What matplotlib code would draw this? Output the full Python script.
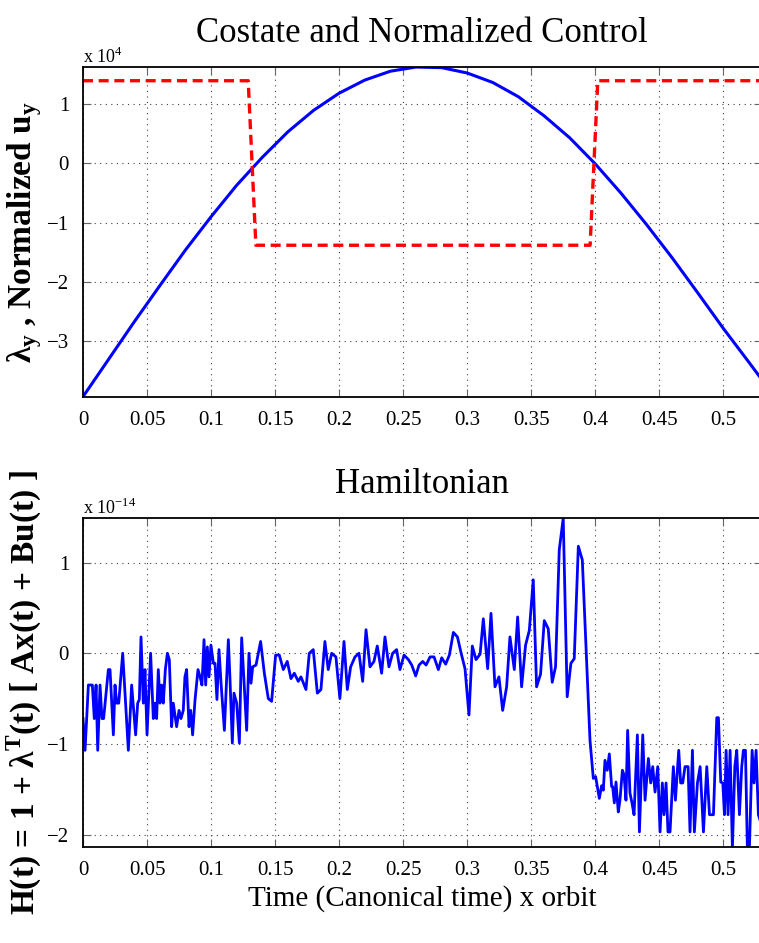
import matplotlib
matplotlib.use("Agg")
import matplotlib.pyplot as plt
import numpy as np

plt.rcParams['font.family'] = ['Liberation Serif', 'DejaVu Serif']
plt.rcParams['mathtext.fontset'] = 'custom'
plt.rcParams['mathtext.rm'] = 'Liberation Serif'
plt.rcParams['mathtext.bf'] = 'Liberation Serif:bold'

# Top panel: costate lambda_y (x 1e4) and normalized control u_y
t_lam = [0.00, 0.02, 0.04, 0.06, 0.08, 0.10, 0.12, 0.14, 0.16, 0.18,
         0.20, 0.22, 0.24, 0.26, 0.28, 0.30, 0.32, 0.34, 0.36, 0.38,
         0.40, 0.42, 0.44, 0.46, 0.48, 0.50, 0.52, 0.53]
lam_y = [-3.93, -3.30, -2.67, -2.06, -1.46, -0.90, -0.37, 0.10, 0.53, 0.89,
         1.18, 1.40, 1.55, 1.62, 1.61, 1.52, 1.36, 1.12, 0.80, 0.43,
         -0.01, -0.50, -1.03, -1.59, -2.18, -2.78, -3.35, -3.64]

t_u = [0.0, 0.129, 0.135, 0.396, 0.402, 0.53]
u_y = [1.39, 1.39, -1.38, -1.38, 1.39, 1.39]

# Bottom panel: Hamiltonian (x 1e-14)
t_h = [0.0000, 0.0016, 0.0042, 0.0073, 0.0088, 0.0102, 0.0115, 0.0133, 0.0148, 0.0161,
       0.0198, 0.0211, 0.0237, 0.0250, 0.0263, 0.0279, 0.0310, 0.0354, 0.0380, 0.0411,
       0.0427, 0.0440, 0.0453, 0.0471, 0.0484, 0.0500, 0.0528, 0.0549, 0.0560, 0.0575,
       0.0588, 0.0601, 0.0614, 0.0627, 0.0643, 0.0659, 0.0674, 0.0692, 0.0705, 0.0731,
       0.0750, 0.0765, 0.0783, 0.0796, 0.0809, 0.0828, 0.0841, 0.0856, 0.0875, 0.0898,
       0.0914, 0.0929, 0.0945, 0.0958, 0.0971, 0.0984, 0.0999, 0.1018, 0.1031, 0.1046,
       0.1062, 0.1078, 0.1104, 0.1135, 0.1148, 0.1166, 0.1179, 0.1200, 0.1221,
       0.1239, 0.1278, 0.1296, 0.1312, 0.1325, 0.1351, 0.1387, 0.1416, 0.1447, 0.1473,
       0.1504, 0.1533, 0.1564, 0.1595, 0.1624, 0.1650, 0.1681, 0.1702, 0.1741, 0.1767,
       0.1798, 0.1830, 0.1858, 0.1889, 0.1915, 0.1942, 0.1975, 0.2006, 0.2038, 0.2064,
       0.2090, 0.2124, 0.2155, 0.2184, 0.2210, 0.2241, 0.2272, 0.2298, 0.2332, 0.2358,
       0.2389, 0.2418, 0.2449, 0.2475,
       0.2507, 0.2541, 0.2567, 0.2598, 0.2624, 0.2653, 0.2679, 0.2710, 0.2741, 0.2775,
       0.2801, 0.2832, 0.2861, 0.2892, 0.2924, 0.2953, 0.2983, 0.3014, 0.3040, 0.3069,
       0.3101, 0.3126, 0.3160, 0.3186, 0.3217, 0.3248, 0.3277, 0.3308, 0.3334, 0.3368,
       0.3394, 0.3425, 0.3456, 0.3485, 0.3516, 0.3542, 0.3573, 0.3602, 0.3633, 0.3664,
       0.3690, 0.3719, 0.3750, 0.3781, 0.3810, 0.3836,
       0.3868, 0.3899, 0.3959, 0.3985, 0.4003, 0.4032, 0.4050, 0.4063, 0.4076, 0.4094,
       0.4110, 0.4128, 0.4136, 0.4149, 0.4162, 0.4180, 0.4193, 0.4212, 0.4225, 0.4240,
       0.4253, 0.4271, 0.4287, 0.4303, 0.4329, 0.4345, 0.4371, 0.4389, 0.4415, 0.4433,
       0.4449, 0.4467, 0.4488, 0.4506, 0.4524, 0.4537, 0.4553, 0.4568, 0.4584, 0.4610,
       0.4626, 0.4652, 0.4667, 0.4683, 0.4701, 0.4725, 0.4740, 0.4759, 0.4774, 0.4798,
       0.4819, 0.4845, 0.4871, 0.4892, 0.4923, 0.4949, 0.4962, 0.4980, 0.4996, 0.5009,
       0.5022, 0.5037, 0.5053, 0.5071, 0.5090, 0.5105, 0.5126, 0.5144, 0.5157, 0.5173,
       0.5188, 0.5204, 0.5225, 0.5240, 0.5256, 0.5274, 0.5300]
ham = [-0.72, -1.07, -0.35, -0.35, -0.72, -0.35, -1.07, -0.35, -0.72, -0.72,
       -0.18, -0.18, -0.90, -0.35, -0.55, -0.55, 0.00, -1.07, -0.35, -0.90,
       -0.55, -0.51, 0.18, -0.55, -0.18, -0.90, 0.00, -0.72, -0.55, -0.72,
       -0.18, -0.55, -0.35, -0.55, -0.18, 0.00, -0.07, -0.81, -0.55, -0.81,
       -0.63, -0.72, -0.63, -0.26, -0.18, -0.81, -0.63, -0.90, -0.51, -0.18,
       -0.26, -0.35, 0.15, -0.35, 0.07, -0.26, 0.09, -0.11, -0.11, -0.51,
       0.04, -0.33, -0.85, 0.15, -0.29, -0.99, -0.44, -0.55, -0.99,
       0.17, -0.85, 0.00, -0.33, -0.15, -0.13, 0.13, -0.22, -0.50, -0.53,
       -0.02, -0.02, -0.18, -0.09, -0.28, -0.22, -0.31, -0.26, -0.40, 0.00,
       0.04, -0.44, -0.40, 0.13, -0.18, 0.00, -0.04, -0.50, 0.13, -0.40,
       -0.15, -0.04, 0.00, -0.31, 0.26, -0.15, -0.09, 0.08, -0.22, 0.18,
       -0.15, 0.00, 0.04, -0.18,
       -0.02, -0.07, -0.13, -0.25, -0.13, -0.09, -0.13, -0.04, -0.04, -0.18,
       -0.05, -0.12, -0.02, 0.23, 0.18, 0.00, -0.17, -0.68, 0.08, -0.07,
       -0.01, 0.38, -0.17, 0.44, -0.37, -0.26, -0.63, -0.37, 0.18, -0.18,
       0.40, -0.37, 0.09, 0.25, 0.81, -0.37, -0.23, 0.36, 0.27, -0.32,
       -0.15, 1.14, 1.49, -0.48, -0.11, -0.06,
       1.18, 1.03, -0.96, -1.38, -1.36, -1.60, -1.46, -1.51, -1.18, -1.29,
       -1.11, -1.47, -1.47, -1.65, -1.42, -1.75, -1.62, -1.29, -1.34, -1.62,
       -0.85, -1.54, -1.65, -1.78, -0.90, -1.97, -0.90, -1.62, -1.16, -1.43,
       -1.25, -1.53, -1.25, -1.97, -1.43, -1.78, -1.43, -1.97, -1.97, -1.25,
       -1.62, -1.07, -1.43, -1.43, -1.25, -1.25, -1.97, -1.07, -1.97, -1.43,
       -1.25, -1.97, -1.25, -1.78, -1.78, -0.71, -0.71, -1.42, -1.43, -1.78,
       -1.07, -1.78, -1.07, -2.15, -1.25, -1.07, -1.78, -1.25, -1.07, -1.07,
       -2.15, -2.15, -1.07, -1.43, -1.07, -1.78, -1.90]

xtick_vals = [0, 0.05, 0.1, 0.15, 0.2, 0.25, 0.3, 0.35, 0.4, 0.45, 0.5]
xtick_labels = ['0', '0.05', '0.1', '0.15', '0.2', '0.25', '0.3', '0.35', '0.4', '0.45', '0.5']
ytick_top = [-3, -2, -1, 0, 1]
ytick_bot = [-2, -1, 0, 1]


def style_axes(ax, yticks, ylim):
    ax.set_xlim(0, 0.53)
    ax.set_ylim(*ylim)
    ax.set_xticks(xtick_vals)
    ax.set_xticklabels(xtick_labels)
    ax.set_yticks(yticks)
    ax.set_yticklabels([str(v).replace('-', '\u2212') for v in yticks])
    ax.tick_params(direction='in', length=6, width=0.8, top=True, right=True,
                   labelsize=15, color='0.4', pad=10)
    ax.grid(True, linestyle=(0, (1, 4)), color='0.25', linewidth=0.8)
    for sp in ax.spines.values():
        sp.set_linewidth(1.3)


fig = plt.figure(figsize=(7.59, 9.43), dpi=100)
ax_w = 0.53 * 1280.6 / 759

ax1 = fig.add_axes([83 / 759, 1 - 396.7 / 943, ax_w, 330 / 943])
ax1.plot(t_lam, lam_y, color=(0, 0, 1), lw=2.2)
ax1.plot(t_u, u_y, color=(1, 0, 0), lw=2.4, linestyle=(0, (3.0, 1.7)))
style_axes(ax1, ytick_top, (-3.93, 1.626))
ax1.set_title('Costate and Normalized Control', fontsize=25, pad=18)
ax1.text(0, 1, r'x 10$^{4}$', transform=ax1.transAxes, fontsize=13,
         va='bottom', ha='left')
ax1.set_ylabel(r'λ$_{\mathbf{y}}$ , Normalized u$_{\mathbf{y}}$',
               fontsize=24, fontweight='bold')
ax1.yaxis.set_label_coords(-0.058, 0.5)

ax2 = fig.add_axes([83 / 759, 1 - 847 / 943, ax_w, 328.7 / 943])
ax2.plot(t_h, ham, color=(0, 0, 1), lw=2.0)
style_axes(ax2, ytick_bot, (-2.136, 1.488))
ax2.set_title('Hamiltonian', fontsize=25, pad=18)
ax2.text(0, 1, r'x 10$^{-14}$', transform=ax2.transAxes, fontsize=13,
         va='bottom', ha='left')
ax2.set_xlabel('Time (Canonical time) x orbit', fontsize=21, labelpad=4)
ax2.set_ylabel(r'H(t) = 1 + λ$^{\mathbf{T}}$(t) [ Ax(t) + Bu(t) ]',
               fontsize=24, fontweight='bold')
ax2.yaxis.set_label_coords(-0.058, 0.47)

fig.savefig('out.png', dpi=100)
